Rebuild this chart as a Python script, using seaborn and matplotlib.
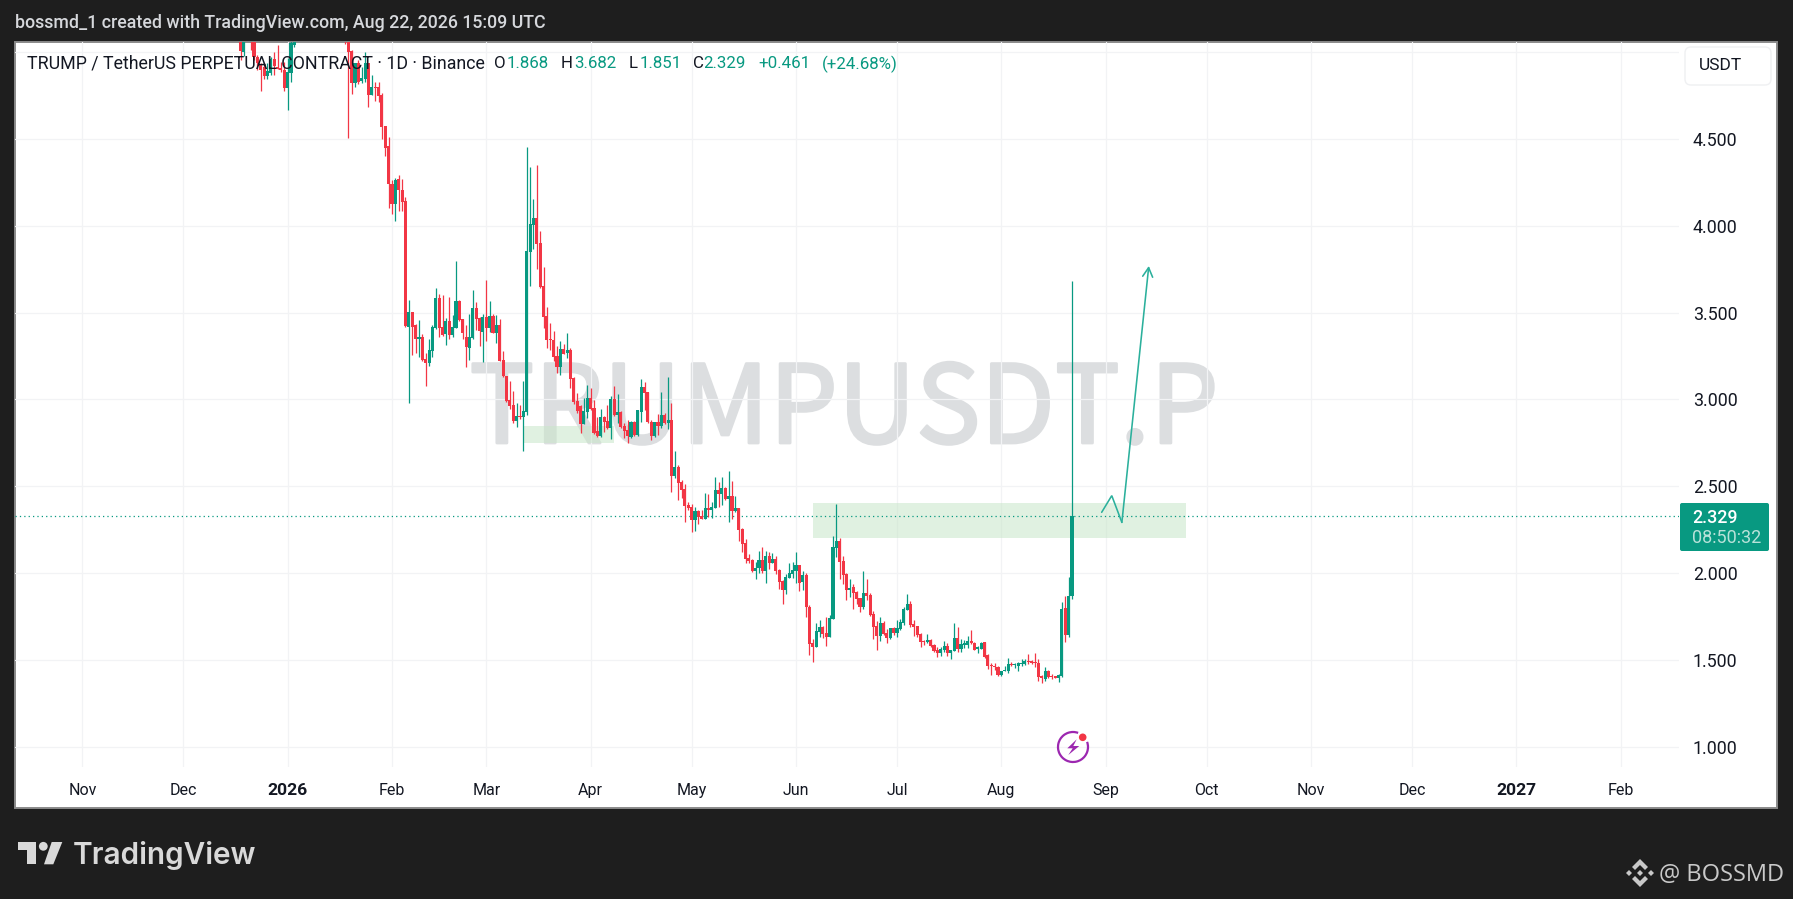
import numpy as np
import pandas as pd
import matplotlib
matplotlib.use("Agg")
import matplotlib.pyplot as plt
import matplotlib.patheffects as pe
from matplotlib.patches import Rectangle, FancyBboxPatch, Polygon, Circle, Arc
import seaborn as sns

# ---------- data ----------
# days counted from 2026-01-01; days 3..16 lie entirely above the visible range
days = list(range(-14, 3)) + list(range(17, 234))

opens = [5.25,5.00,5.30,5.25,5.15,4.97,4.93,4.917,4.863,4.878,4.959,4.917,4.911,4.898,4.796,4.882,5.044,
5.20,5.15,5.009,4.825,4.936,4.836,4.846,4.936,4.754,4.802,4.798,4.754,4.575,4.460,4.241,4.126,4.270,4.206,4.143,
3.419,3.504,3.427,3.348,3.360,3.231,3.212,3.281,3.410,3.584,3.417,3.377,3.452,3.373,3.413,3.567,3.461,3.360,3.298,3.354,3.527,3.471,3.390,3.475,3.413,3.481,3.385,3.429,3.227,3.133,2.997,2.968,2.876,2.905,2.897,2.928,3.851,4.005,4.045,3.901,3.653,3.481,3.348,3.342,3.250,3.187,3.291,3.268,3.285,3.124,2.989,2.962,2.859,2.926,3.008,2.951,2.818,2.789,2.899,2.876,2.835,3.003,2.910,2.928,2.847,2.824,2.784,2.870,2.795,2.928,3.072,3.043,2.870,2.789,2.870,2.847,2.910,2.864,
2.882,2.561,2.611,2.524,2.484,2.392,2.379,2.306,2.357,2.329,2.313,2.373,2.363,2.375,2.478,2.455,2.490,2.427,2.444,2.357,2.375,2.254,2.173,2.085,2.075,2.012,2.029,2.075,2.012,2.098,2.058,2.081,2.018,1.954,1.902,1.971,1.995,2.012,2.046,1.948,1.989,1.806,1.595,1.574,1.661,1.689,1.655,1.632,1.735,2.144,2.185,2.069,1.995,1.902,1.920,1.891,1.856,1.804,1.885,1.874,1.764,1.695,1.637,1.712,1.655,1.626,1.684,1.655,1.678,1.712,1.787,1.822,1.707,1.695,1.649,1.609,1.603,1.614,1.586,1.557,1.540,1.557,1.580,1.540,1.551,1.626,
1.565,1.588,1.588,1.609,1.599,1.565,1.563,1.603,1.528,1.471,1.465,1.457,1.411,1.436,1.436,1.474,1.471,1.465,1.476,1.476,1.492,1.488,1.488,1.482,1.407,1.390,1.436,1.405,1.402,1.398,1.407,1.799,1.643,1.868]

closes = [5.009,5.15,5.25,5.15,4.974,4.936,4.898,4.863,4.894,4.959,4.921,4.901,4.898,4.792,4.888,5.051,5.20,
5.10,5.003,4.825,4.936,4.830,4.850,4.936,4.754,4.802,4.794,4.750,4.571,4.450,4.241,4.126,4.264,4.206,4.139,3.423,
3.504,3.419,3.348,3.360,3.227,3.212,3.285,3.417,3.584,3.413,3.371,3.452,3.373,3.417,3.567,3.458,3.385,3.304,3.360,3.527,3.465,3.394,3.477,3.413,3.481,3.385,3.429,3.223,3.133,2.993,2.964,2.876,2.905,2.897,2.933,3.855,4.011,4.045,3.895,3.648,3.475,3.342,3.342,3.244,3.187,3.291,3.262,3.285,3.118,2.983,2.933,2.859,2.933,3.008,2.945,2.809,2.789,2.899,2.870,2.835,3.003,2.910,2.928,2.841,2.820,2.789,2.870,2.795,2.939,3.072,3.037,2.870,2.789,2.870,2.847,2.910,2.862,2.882,
2.561,2.611,2.521,2.478,2.386,2.377,2.306,2.357,2.325,2.313,2.373,2.363,2.379,2.478,2.455,2.490,2.427,2.444,2.357,2.375,2.248,2.167,2.081,2.069,2.012,2.029,2.075,2.012,2.098,2.058,2.081,2.012,1.948,1.902,1.977,2.000,2.018,2.046,1.943,1.989,1.803,1.591,1.574,1.666,1.689,1.649,1.632,1.741,2.150,2.185,2.064,1.989,1.902,1.914,1.885,1.851,1.804,1.885,1.868,1.758,1.689,1.637,1.712,1.649,1.626,1.684,1.655,1.684,1.718,1.793,1.822,1.701,1.689,1.643,1.603,1.603,1.614,1.580,1.551,1.540,1.563,1.580,1.540,1.557,1.626,1.563,
1.592,1.592,1.609,1.595,1.557,1.568,1.597,1.519,1.465,1.463,1.457,1.411,1.436,1.442,1.476,1.469,1.474,1.482,1.480,1.494,1.486,1.484,1.482,1.403,1.396,1.436,1.402,1.402,1.398,1.413,1.793,1.643,1.868,2.329]

highs = [5.35,5.22,5.40,5.30,5.20,4.984,4.936,4.936,4.936,4.974,5.003,5.042,4.946,4.946,4.965,5.11,5.30,
5.30,5.20,5.012,4.94,4.955,4.917,5.003,4.940,4.869,4.827,4.830,4.763,4.575,4.510,4.264,4.274,4.293,4.268,4.164,
3.573,3.504,3.435,3.458,3.377,3.266,3.348,3.429,3.642,3.607,3.602,3.471,3.592,3.486,3.797,3.573,3.461,3.429,3.492,3.630,3.561,3.477,3.490,3.688,3.567,3.492,3.486,3.461,3.279,3.135,3.108,3.051,2.978,2.968,3.108,4.452,4.337,4.155,4.350,3.970,3.765,3.534,3.442,3.394,3.308,3.337,3.319,3.385,3.294,3.131,3.035,2.968,3.006,3.083,3.064,2.997,2.901,2.943,2.905,2.968,3.020,3.077,3.031,2.933,2.862,2.882,2.876,2.876,2.939,3.118,3.100,3.043,2.882,2.870,2.916,3.043,2.920,3.129,
2.977,2.703,2.622,2.536,2.513,2.409,2.398,2.379,2.363,2.363,2.459,2.455,2.407,2.553,2.524,2.553,2.496,2.586,2.530,2.444,2.377,2.258,2.194,2.110,2.079,2.066,2.127,2.150,2.127,2.121,2.114,2.098,2.021,1.960,1.995,2.056,2.066,2.121,2.046,2.014,1.998,1.816,1.620,1.710,1.730,1.695,1.749,1.758,2.213,2.398,2.204,2.098,1.998,1.966,1.937,1.897,1.858,2.012,1.966,1.885,1.781,1.724,1.745,1.724,1.676,1.684,1.691,1.730,1.733,1.806,1.879,1.839,1.730,1.695,1.653,1.614,1.649,1.620,1.591,1.576,1.574,1.609,1.595,1.557,1.712,1.691,
1.618,1.615,1.638,1.672,1.605,1.580,1.603,1.603,1.534,1.480,1.482,1.465,1.438,1.465,1.511,1.488,1.482,1.488,1.505,1.505,1.534,1.499,1.540,1.505,1.413,1.459,1.442,1.419,1.407,1.419,1.833,1.868,1.977,3.682]

lows = [4.955,4.978,5.15,5.013,4.955,4.898,4.779,4.844,4.848,4.869,4.869,4.901,4.888,4.779,4.667,4.830,5.03,
5.047,4.504,4.759,4.802,4.817,4.825,4.830,4.686,4.754,4.721,4.715,4.500,4.404,4.101,4.068,4.030,4.085,4.085,3.419,
2.981,3.256,3.266,3.246,3.223,3.077,3.195,3.243,3.404,3.358,3.365,3.314,3.348,3.358,3.413,3.454,3.346,3.189,3.227,3.348,3.400,3.308,3.218,3.337,3.390,3.381,3.323,3.221,3.127,2.987,2.943,2.866,2.843,2.885,2.705,2.910,3.653,3.865,3.751,3.642,3.410,3.298,3.285,3.223,3.154,3.141,3.262,3.241,3.064,2.974,2.920,2.809,2.859,2.891,2.939,2.801,2.786,2.782,2.814,2.830,2.772,2.907,2.866,2.837,2.776,2.751,2.776,2.791,2.789,2.872,2.939,2.862,2.766,2.786,2.795,2.834,2.859,2.830,
2.469,2.546,2.421,2.430,2.294,2.363,2.238,2.242,2.283,2.309,2.313,2.321,2.317,2.373,2.379,2.392,2.419,2.294,2.309,2.350,2.183,2.119,2.056,2.056,2.004,1.966,1.998,1.998,1.943,2.021,2.056,1.995,1.908,1.822,1.879,1.970,1.970,1.941,1.895,1.902,1.749,1.528,1.490,1.574,1.634,1.624,1.580,1.632,1.735,2.094,1.966,1.937,1.845,1.860,1.793,1.822,1.776,1.793,1.845,1.753,1.620,1.557,1.609,1.643,1.597,1.620,1.643,1.632,1.672,1.701,1.787,1.691,1.637,1.630,1.572,1.586,1.595,1.576,1.545,1.516,1.522,1.545,1.522,1.505,1.551,1.545,
1.545,1.567,1.567,1.592,1.557,1.542,1.561,1.511,1.448,1.413,1.442,1.407,1.407,1.436,1.426,1.465,1.455,1.436,1.465,1.471,1.476,1.476,1.461,1.378,1.369,1.378,1.396,1.390,1.396,1.373,1.402,1.603,1.632,1.851]

month_days = [-61, -31, 0, 31, 59, 90, 120, 151, 181, 212, 243, 273, 304, 334, 365, 396]
month_labels = ["Nov", "Dec", "2026", "Feb", "Mar", "Apr", "May", "Jun", "Jul", "Aug", "Sep", "Oct", "Nov", "Dec", "2027", "Feb"]
price_ticks = [1.0, 1.5, 2.0, 2.5, 3.0, 3.5, 4.0, 4.5, 5.0]
price_labels = ["1.000", "1.500", "2.000", "2.500", "3.000", "3.500", "4.000", "4.500", ""]

last_price = 2.329
zone_days = [156, 267]
zone_prices = [2.204, 2.404]
small_zone_days = [70, 97]
small_zone_prices = [2.751, 2.847]
path_days = [241.8, 244.8, 247.8, 255.8]
path_prices = [2.350, 2.446, 2.292, 3.769]

UP = "#089981"
DOWN = "#f23645"
DARK = "#1e1e1e"
INK = "#131722"
W, H = 1793, 899

sns.set_theme(style="white")
plt.rcParams["font.family"] = ["Roboto", "DejaVu Sans"]

df = pd.DataFrame({"day": days, "open": opens, "high": highs, "low": lows, "close": closes})
df["top"] = df[["open", "close"]].max(axis=1)
df["bottom"] = df[["open", "close"]].min(axis=1)
df["body"] = np.maximum(df["top"] - df["bottom"], 0.007)
df["rising"] = df["close"] >= df["open"]

fig = plt.figure(figsize=(W / 100, H / 100), dpi=100, facecolor=DARK)


def overlay(z):
    a = fig.add_axes([0, 0, 1, 1], zorder=z, facecolor="none")
    a.set_xlim(0, W)
    a.set_ylim(H, 0)
    a.axis("off")
    return a


bg = overlay(0)
fg = overlay(3)
ax = fig.add_axes([15 / W, 1 - 767 / H, 1664 / W, 725 / H], zorder=1, facecolor="none")

# page frame and watermark
bg.add_patch(Rectangle((15, 42), 1762, 766, facecolor="white", edgecolor="#8a8a8a", lw=1.4))
bg.text(844, 443, "TRUMPUSDT.P", ha="center", va="baseline", fontsize=78, color="#dcdee0",
        family="Noto Sans CJK SC", path_effects=[pe.withStroke(linewidth=2, foreground="#dcdee0")])

# plot area
ax.set_xlim(-81.0, 413.3)
ax.set_ylim(0.883, 5.059)
ax.grid(True, color="#f2f3f5", lw=0.9)
ax.set_axisbelow(True)

ax.add_patch(Rectangle((zone_days[0], zone_prices[0]), zone_days[1] - zone_days[0], zone_prices[1] - zone_prices[0],
                       facecolor="#c8e6c9", alpha=0.55, lw=0, zorder=1.5))
ax.add_patch(Rectangle((small_zone_days[0], small_zone_prices[0]), small_zone_days[1] - small_zone_days[0],
                       small_zone_prices[1] - small_zone_prices[0], facecolor="#c8e6c9", alpha=0.55, lw=0, zorder=1.5))

ax.axhline(last_price, color=UP, lw=0.9, ls=(0, (1, 2.5)), zorder=1.6)

for rising, colour in [(True, UP), (False, DOWN)]:
    part = df[df["rising"] == rising].sort_values("day").reset_index(drop=True)
    ax.vlines(part["day"], part["low"], part["high"], color=colour, lw=0.9, zorder=2)
    sns.barplot(data=part, x="day", y="body", bottom=part["bottom"].to_numpy(), native_scale=True, color=colour,
                saturation=1, width=0.92, errorbar=None, linewidth=0, ax=ax, zorder=2.2)

# drawn path with arrow
ax.plot(path_days[:3], path_prices[:3], color="#2bb09c", lw=1.15, zorder=3, solid_joinstyle="miter")
ax.annotate("", xy=(path_days[3], path_prices[3]), xytext=(path_days[2], path_prices[2]),
            arrowprops=dict(arrowstyle="->,head_length=0.55,head_width=0.3", color="#2bb09c", lw=1.15,
                            shrinkA=0, shrinkB=0), zorder=3)

# axes and ticks
ax.set_xlim(-81.0, 413.3)
ax.set_ylim(0.883, 5.059)
ax.set_xlabel("")
ax.set_ylabel("")
ax.yaxis.tick_right()
ax.set_xticks(month_days)
ax.set_xticklabels(month_labels)
ax.set_yticks(price_ticks)
ax.set_yticklabels(price_labels)
ax.tick_params(axis="x", length=0, pad=11.5, labelsize=11.5, colors=INK)
ax.tick_params(axis="y", length=0, pad=10, labelsize=12.8, colors=INK)
for lab in ax.get_xticklabels():
    if lab.get_text() in ("2026", "2027"):
        lab.set_fontweight("bold")
        lab.set_fontsize(12.6)
for s in ax.spines.values():
    s.set_visible(False)

# header
fg.text(15, 23, "bossmd_1 created with TradingView.com, Aug 22, 2026 15:09 UTC", color="#d6d8dc",
        fontsize=12.75, fontweight="medium", va="center")

# legend line
fg.text(27, 64, "TRUMP / TetherUS PERPETUAL CONTRACT · 1D · Binance", color=INK, fontsize=12.75, va="center")
legend_bits = [(494, "O", INK), (507, "1.868", UP), (561, "H", INK), (574, "3.682", UP), (629, "L", INK),
               (640, "1.851", UP), (693, "C", INK), (703, "2.329", UP), (758, "+0.461", UP), (822, "(+24.68%)", UP)]
for x, s, c in legend_bits:
    fg.text(x, 64, s, color=c, fontsize=12.2, va="center")

# currency button
fg.add_patch(FancyBboxPatch((1688, 50), 80, 32, boxstyle="round,pad=3,rounding_size=6", facecolor="white",
                            edgecolor="#eff0f2", lw=1))
fg.text(1720, 65, "USDT", ha="center", va="center", color=INK, fontsize=12.5)

# last price label
fg.add_patch(FancyBboxPatch((1681, 504), 87, 46, boxstyle="round,pad=1,rounding_size=2", facecolor=UP, edgecolor="none"))
fg.text(1692, 518, "2.329", color="white", fontsize=12.8, fontweight="medium", va="center")
fg.text(1692, 538, "08:50:32", color="#b8e2d9", fontsize=13, va="center")

# lightning badge
fg.add_patch(Arc((1073, 747), 30, 30, theta1=340, theta2=650, color="#9c27b0", lw=1.6))
bolt = [(1076.7, 739.3), (1067.3, 748.3), (1072.7, 748.3), (1068.3, 755), (1079.3, 746), (1073.3, 746)]
fg.add_patch(Polygon(bolt, closed=True, facecolor="#9c27b0", edgecolor="none"))
fg.add_patch(Circle((1082.7, 737.3), 3.8, facecolor=DOWN, edgecolor="none"))

# TradingView logo
LOGO = "#d9d9d9"
fg.add_patch(Polygon([(18, 842), (36, 842), (36, 864), (27, 864), (27, 850), (18, 850)], closed=True, facecolor=LOGO, edgecolor="none"))
fg.add_patch(Circle((43.3, 846.3), 4.4, facecolor=LOGO, edgecolor="none"))
fg.add_patch(Polygon([(51.7, 842), (62.3, 842), (53.3, 864.3), (44, 864.3)], closed=True, facecolor=LOGO, edgecolor="none"))
fg.text(73, 856, "TradingView", color=LOGO, fontsize=21.4, fontweight="semibold", va="center", family="Inter")

# Binance mark and handle
MARK = "#c9c9c9"
cx, cy = 1640, 873
top = [(0, -14), (8, -6), (5, -3), (0, -8), (-5, -3), (-8, -6)]
fg.add_patch(Polygon([(cx + a, cy + b) for a, b in top], closed=True, facecolor=MARK, edgecolor="none"))
fg.add_patch(Polygon([(cx + a, cy - b) for a, b in top], closed=True, facecolor=MARK, edgecolor="none"))
for ox in (-11, 0, 11):
    fg.add_patch(Polygon([(cx + ox - 3, cy), (cx + ox, cy - 3), (cx + ox + 3, cy), (cx + ox, cy + 3)], closed=True,
                         facecolor=MARK, edgecolor="none"))
fg.text(1659, 875, "@ BOSSMD", color=MARK, fontsize=17, va="center", family="Open Sans")

fig.savefig("out.png", dpi=100, facecolor=DARK)
